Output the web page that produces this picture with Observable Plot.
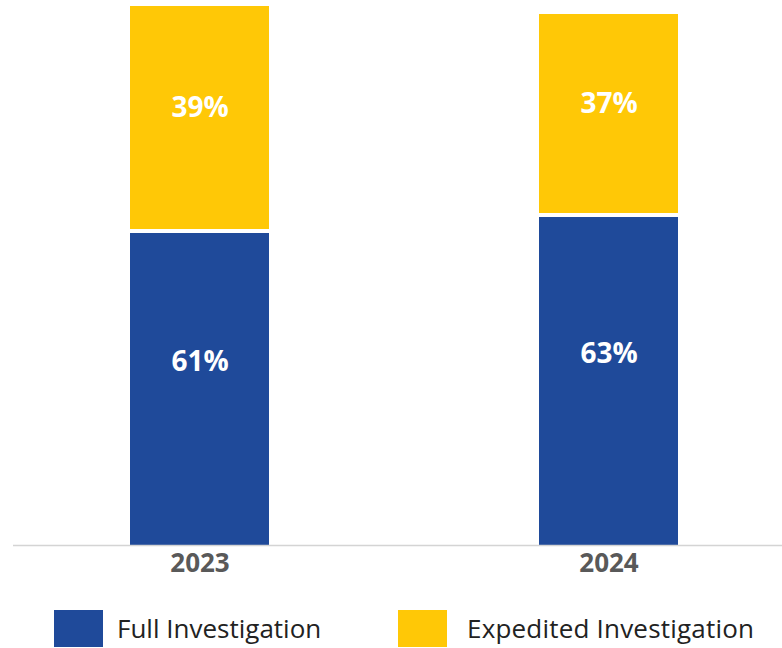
<!DOCTYPE html>
<html><head><meta charset="utf-8">
<script src="https://cdn.jsdelivr.net/npm/d3@7"></script>
<script src="https://cdn.jsdelivr.net/npm/@observablehq/plot@0.6"></script>
<style>
body{margin:0;background:#fff;font-family:"Open Sans",sans-serif;}
#chart svg{display:block;}
#legend{position:relative;height:58px;width:782px;}
.item{position:absolute;top:20px;display:flex;align-items:center;}
.sw{width:49px;height:37px;}
.lab{font-size:26px;color:#222;margin-left:14px;line-height:37px;}
</style></head><body>
<div id="chart"></div>
<div id="legend"></div>
<script>
const years = ["2023", "2024"];
const fullValues = [312, 328];
const expeditedValues = [227, 203];
const fullLabels = ["61%", "63%"];
const expeditedLabels = ["39%", "37%"];
const seriesNames = ["Full Investigation", "Expedited Investigation"];
const seriesColors = ["#1F4A9A", "#FFC806"];

const fullRows = years.map((y, i) => ({year: y, series: seriesNames[0], base: 0, value: fullValues[i], label: fullLabels[i]}));
const expRows = years.map((y, i) => ({year: y, series: seriesNames[1], base: fullValues[i], value: expeditedValues[i], label: expeditedLabels[i]}));

const chart = Plot.plot({
  width: 782, height: 590,
  marginLeft: 13, marginRight: 0, marginTop: 5, marginBottom: 45,
  style: {fontFamily: "Open Sans", background: "#fff", overflow: "visible"},
  x: {domain: years, paddingInner: 0.661, paddingOuter: 0.2705, align: 0.529, label: null},
  y: {domain: [0, 540], axis: null},
  color: {domain: seriesNames, range: seriesColors},
  marks: [
    Plot.barY(fullRows, {x: "year", y1: "base", y2: d => d.base + d.value, fill: "series"}),
    Plot.barY(expRows, {x: "year", y1: "base", y2: d => d.base + d.value, fill: "series", insetBottom: 4}),
    Plot.text(fullRows, {x: "year", y: d => d.base + d.value / 2, text: "label", dy: -27, fill: "white", fontWeight: "bold", fontSize: 28}),
    Plot.text(expRows, {x: "year", y: d => d.base + d.value / 2, text: "label", dy: -12, fill: "white", fontWeight: "bold", fontSize: 28}),
    Plot.ruleY([0], {stroke: "#d4d4d4", strokeWidth: 1.5}),
    Plot.axisX({tickSize: 0, tickPadding: 8, fontSize: 26, fontWeight: "bold", color: "#595959", label: null})
  ]
});
document.getElementById("chart").append(chart);

const legend = document.getElementById("legend");
const lefts = [54, 398];
seriesNames.forEach((name, i) => {
  const item = document.createElement("div");
  item.className = "item";
  item.style.left = lefts[i] + "px";
  const sw = document.createElement("div");
  sw.className = "sw";
  sw.style.background = seriesColors[i];
  const lab = document.createElement("span");
  lab.className = "lab";
  lab.textContent = name;
  if (i === 1) { lab.style.marginLeft = "20px"; lab.style.letterSpacing = "0.2px"; }
  item.append(sw, lab);
  legend.append(item);
});
</script>
</body></html>
